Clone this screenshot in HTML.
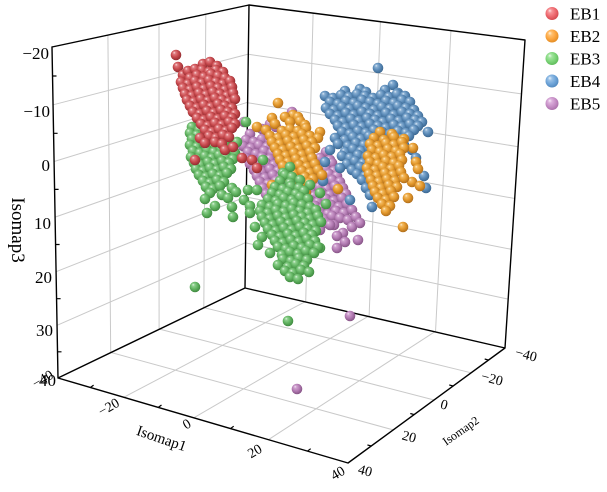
<!DOCTYPE html>
<html><head><meta charset="utf-8">
<style>
html,body{margin:0;padding:0;background:#fff;}
svg{display:block;}
text{font-family:"Liberation Serif","Times New Roman",serif;fill:#000;}
</style></head>
<body>
<svg width="607" height="492" viewBox="0 0 607 492" xmlns="http://www.w3.org/2000/svg">
<defs>
<radialGradient id="gR" cx="0.45" cy="0.42" r="0.62" fx="0.32" fy="0.27"><stop offset="0" stop-color="#fbe6e6"/><stop offset="0.2" stop-color="#e07c80"/><stop offset="0.55" stop-color="#c84a4e"/><stop offset="1" stop-color="#8a272b"/></radialGradient>
<radialGradient id="gO" cx="0.45" cy="0.42" r="0.62" fx="0.32" fy="0.27"><stop offset="0" stop-color="#fff0d8"/><stop offset="0.2" stop-color="#f3bb62"/><stop offset="0.55" stop-color="#e3982c"/><stop offset="1" stop-color="#a8681a"/></radialGradient>
<radialGradient id="gG" cx="0.45" cy="0.42" r="0.62" fx="0.32" fy="0.27"><stop offset="0" stop-color="#e8f8e8"/><stop offset="0.2" stop-color="#8fd08f"/><stop offset="0.55" stop-color="#62b462"/><stop offset="1" stop-color="#3a833a"/></radialGradient>
<radialGradient id="gB" cx="0.45" cy="0.42" r="0.62" fx="0.32" fy="0.27"><stop offset="0" stop-color="#e6eff8"/><stop offset="0.2" stop-color="#8ab0d4"/><stop offset="0.55" stop-color="#5b8bb8"/><stop offset="1" stop-color="#36628c"/></radialGradient>
<radialGradient id="gP" cx="0.45" cy="0.42" r="0.62" fx="0.32" fy="0.27"><stop offset="0" stop-color="#f6e8f6"/><stop offset="0.2" stop-color="#cfa2cf"/><stop offset="0.55" stop-color="#b47cb4"/><stop offset="1" stop-color="#7f4e7f"/></radialGradient>
<radialGradient id="lR" cx="0.45" cy="0.42" r="0.62" fx="0.32" fy="0.27"><stop offset="0" stop-color="#ffe8e8"/><stop offset="0.25" stop-color="#f79296"/><stop offset="0.6" stop-color="#ee6a70"/><stop offset="1" stop-color="#d0454b"/></radialGradient>
<radialGradient id="lO" cx="0.45" cy="0.42" r="0.62" fx="0.32" fy="0.27"><stop offset="0" stop-color="#fff2dc"/><stop offset="0.25" stop-color="#ffc070"/><stop offset="0.6" stop-color="#fca640"/><stop offset="1" stop-color="#e08a22"/></radialGradient>
<radialGradient id="lG" cx="0.45" cy="0.42" r="0.62" fx="0.32" fy="0.27"><stop offset="0" stop-color="#eefcee"/><stop offset="0.25" stop-color="#a2e49e"/><stop offset="0.6" stop-color="#7ed67a"/><stop offset="1" stop-color="#5cb858"/></radialGradient>
<radialGradient id="lB" cx="0.45" cy="0.42" r="0.62" fx="0.32" fy="0.27"><stop offset="0" stop-color="#eaf3fc"/><stop offset="0.25" stop-color="#98c0e6"/><stop offset="0.6" stop-color="#70a6da"/><stop offset="1" stop-color="#4f86bc"/></radialGradient>
<radialGradient id="lP" cx="0.45" cy="0.42" r="0.62" fx="0.32" fy="0.27"><stop offset="0" stop-color="#faeefa"/><stop offset="0.25" stop-color="#dcb0dc"/><stop offset="0.6" stop-color="#c790c7"/><stop offset="1" stop-color="#a86ea8"/></radialGradient>
</defs>

<!-- grid -->
<path fill="none" stroke="#c9c9c9" stroke-width="1" d="M107.9 35.1L110.7 352.6M159 24.2L159.1 329.3M205.8 14.2L203.8 307.8M53.1 104.8L248.3 54.1M54.1 161.5L247.6 102.3M55.1 217.1L247 149.8M56.1 271.7L246.3 196.6M57.1 325.3L245.7 242.6M313.1 13.1L305.7 302M380.4 21.7L369.1 316.6M450.9 30.6L435.5 332M248.3 54.3L521.5 93.9M247.6 102.7L518.1 146.7M247 150.3L514.7 198.5M246.3 197L511.4 249.3M245.6 242.9L508.2 299.1M305 301.8L123.8 397.3M368.1 316.4L193.8 417.8M434.7 331.8L268.4 439.7M204 307.7L471.2 372.8M159.5 329.1L434.1 400M111 352.5L393.2 429.9"/>
<!-- box edges -->
<path fill="none" stroke="#000" stroke-width="1.4" stroke-linejoin="round" stroke-linecap="round" d="M52 47L58 378M52 47L249 5M249 5L245 288M58 378L245 288M249 5L525 40M525 40L505 348M245 288L505 348M58 378L348 463L505 348"/>
<!-- minor ticks -->
<path fill="none" stroke="#000" stroke-width="1.2" d="M52.5 76h4M53.6 133.3h4M54.6 189.4h4M55.6 244.5h4M56.6 298.7h4M57.5 351.8h4M90.4 387.5l3.2 -2.4M158.3 407.4l3.2 -2.4M230.5 428.6l3.2 -2.4M307.5 451.1l3.2 -2.4M488.5 360.1l-3.8 -1.1M453 386l-3.8 -1.1M414.1 414.6l-3.8 -1.1M371.2 446l-3.8 -1.1"/>

<!-- EB5 purple -->
<g fill="url(#gP)">
<circle cx="244" cy="122" r="5.3"/><circle cx="270" cy="124" r="5.3"/><circle cx="292" cy="112" r="5.3"/>
<circle cx="262" cy="129" r="5.3"/><circle cx="276" cy="127" r="5.3"/>
<circle cx="250" cy="134" r="5.3"/><circle cx="268" cy="136" r="5.3"/><circle cx="282" cy="133" r="5.3"/>
<circle cx="246" cy="140" r="5.3"/><circle cx="254" cy="142" r="5.3"/><circle cx="262" cy="139" r="5.3"/><circle cx="270" cy="141" r="5.3"/>
<circle cx="243" cy="146" r="5.3"/><circle cx="251" cy="148" r="5.3"/><circle cx="259" cy="145" r="5.3"/><circle cx="267" cy="147" r="5.3"/><circle cx="275" cy="144" r="5.3"/>
<circle cx="248" cy="152" r="5.3"/><circle cx="256" cy="154" r="5.3"/><circle cx="264" cy="151" r="5.3"/><circle cx="272" cy="153" r="5.3"/><circle cx="326" cy="152" r="5.3"/>
<circle cx="246" cy="158" r="5.3"/><circle cx="254" cy="160" r="5.3"/><circle cx="262" cy="157" r="5.3"/><circle cx="270" cy="159" r="5.3"/><circle cx="278" cy="156" r="5.3"/><circle cx="320" cy="158" r="5.3"/><circle cx="330" cy="160" r="5.3"/>
<circle cx="250" cy="164" r="5.3"/><circle cx="258" cy="166" r="5.3"/><circle cx="266" cy="163" r="5.3"/><circle cx="274" cy="165" r="5.3"/><circle cx="282" cy="162" r="5.3"/><circle cx="316" cy="164" r="5.3"/><circle cx="324" cy="166" r="5.3"/><circle cx="332" cy="163" r="5.3"/>
<circle cx="254" cy="170" r="5.3"/><circle cx="262" cy="172" r="5.3"/><circle cx="270" cy="169" r="5.3"/><circle cx="278" cy="171" r="5.3"/><circle cx="286" cy="168" r="5.3"/><circle cx="310" cy="170" r="5.3"/><circle cx="318" cy="172" r="5.3"/><circle cx="326" cy="169" r="5.3"/><circle cx="334" cy="171" r="5.3"/>
<circle cx="257" cy="176" r="5.3"/><circle cx="265" cy="178" r="5.3"/><circle cx="273" cy="175" r="5.3"/><circle cx="281" cy="177" r="5.3"/><circle cx="289" cy="174" r="5.3"/><circle cx="297" cy="176" r="5.3"/><circle cx="305" cy="178" r="5.3"/><circle cx="313" cy="175" r="5.3"/><circle cx="321" cy="177" r="5.3"/><circle cx="329" cy="174" r="5.3"/><circle cx="337" cy="176" r="5.3"/>
<circle cx="260" cy="182" r="5.3"/><circle cx="268" cy="184" r="5.3"/><circle cx="276" cy="181" r="5.3"/><circle cx="284" cy="183" r="5.3"/><circle cx="292" cy="180" r="5.3"/><circle cx="300" cy="182" r="5.3"/><circle cx="308" cy="184" r="5.3"/><circle cx="316" cy="181" r="5.3"/><circle cx="324" cy="183" r="5.3"/><circle cx="332" cy="180" r="5.3"/><circle cx="340" cy="182" r="5.3"/>
<circle cx="263" cy="188" r="5.3"/><circle cx="271" cy="190" r="5.3"/><circle cx="279" cy="187" r="5.3"/><circle cx="287" cy="189" r="5.3"/><circle cx="295" cy="186" r="5.3"/><circle cx="303" cy="188" r="5.3"/><circle cx="311" cy="190" r="5.3"/><circle cx="319" cy="187" r="5.3"/><circle cx="327" cy="189" r="5.3"/><circle cx="335" cy="186" r="5.3"/><circle cx="343" cy="188" r="5.3"/>
<circle cx="266" cy="194" r="5.3"/><circle cx="274" cy="196" r="5.3"/><circle cx="282" cy="193" r="5.3"/><circle cx="290" cy="195" r="5.3"/><circle cx="298" cy="192" r="5.3"/><circle cx="306" cy="194" r="5.3"/><circle cx="314" cy="196" r="5.3"/><circle cx="322" cy="193" r="5.3"/><circle cx="330" cy="195" r="5.3"/><circle cx="338" cy="192" r="5.3"/><circle cx="346" cy="194" r="5.3"/>
<circle cx="270" cy="200" r="5.3"/><circle cx="278" cy="202" r="5.3"/><circle cx="286" cy="199" r="5.3"/><circle cx="294" cy="201" r="5.3"/><circle cx="302" cy="198" r="5.3"/><circle cx="310" cy="200" r="5.3"/><circle cx="318" cy="202" r="5.3"/><circle cx="326" cy="199" r="5.3"/><circle cx="334" cy="201" r="5.3"/><circle cx="342" cy="198" r="5.3"/>
<circle cx="275" cy="206" r="5.3"/><circle cx="283" cy="208" r="5.3"/><circle cx="291" cy="205" r="5.3"/><circle cx="299" cy="207" r="5.3"/><circle cx="307" cy="204" r="5.3"/><circle cx="315" cy="206" r="5.3"/><circle cx="323" cy="208" r="5.3"/><circle cx="331" cy="205" r="5.3"/><circle cx="339" cy="207" r="5.3"/><circle cx="347" cy="204" r="5.3"/>
<circle cx="280" cy="212" r="5.3"/><circle cx="288" cy="214" r="5.3"/><circle cx="296" cy="211" r="5.3"/><circle cx="304" cy="213" r="5.3"/><circle cx="312" cy="210" r="5.3"/><circle cx="320" cy="212" r="5.3"/><circle cx="328" cy="214" r="5.3"/><circle cx="336" cy="211" r="5.3"/><circle cx="344" cy="213" r="5.3"/><circle cx="352" cy="210" r="5.3"/>
<circle cx="300" cy="218" r="5.3"/><circle cx="308" cy="220" r="5.3"/><circle cx="316" cy="217" r="5.3"/><circle cx="324" cy="219" r="5.3"/><circle cx="332" cy="216" r="5.3"/><circle cx="340" cy="218" r="5.3"/><circle cx="348" cy="220" r="5.3"/><circle cx="356" cy="217" r="5.3"/>
<circle cx="310" cy="224" r="5.3"/><circle cx="318" cy="226" r="5.3"/><circle cx="326" cy="223" r="5.3"/><circle cx="334" cy="225" r="5.3"/><circle cx="343" cy="233" r="5.3"/><circle cx="352" cy="227" r="5.3"/><circle cx="360" cy="223" r="5.3"/>
<circle cx="320" cy="230" r="5.3"/><circle cx="330" cy="225" r="5.3"/><circle cx="337" cy="236" r="5.3"/><circle cx="358" cy="240" r="5.3"/>
<circle cx="337" cy="248" r="5.3"/><circle cx="345" cy="242" r="5.3"/>
<circle cx="350" cy="316" r="5.3"/><circle cx="297" cy="389" r="5.3"/>
</g>

<!-- EB4 blue -->
<g fill="url(#gB)">
<circle cx="378" cy="68" r="5.3"/><circle cx="393" cy="85" r="5.3"/>
<circle cx="345" cy="91" r="5.3"/><circle cx="360" cy="89" r="5.3"/><circle cx="366" cy="92" r="5.3"/><circle cx="385" cy="90" r="5.3"/><circle cx="398" cy="93" r="5.3"/>
<circle cx="325" cy="96" r="5.3"/><circle cx="333" cy="98" r="5.3"/><circle cx="341" cy="95" r="5.3"/><circle cx="349" cy="97" r="5.3"/><circle cx="357" cy="94" r="5.3"/><circle cx="365" cy="96" r="5.3"/><circle cx="373" cy="98" r="5.3"/><circle cx="381" cy="95" r="5.3"/><circle cx="389" cy="97" r="5.3"/><circle cx="397" cy="94" r="5.3"/><circle cx="405" cy="96" r="5.3"/>
<circle cx="330" cy="102" r="5.3"/><circle cx="338" cy="104" r="5.3"/><circle cx="346" cy="101" r="5.3"/><circle cx="354" cy="103" r="5.3"/><circle cx="362" cy="100" r="5.3"/><circle cx="370" cy="102" r="5.3"/><circle cx="378" cy="104" r="5.3"/><circle cx="386" cy="101" r="5.3"/><circle cx="394" cy="103" r="5.3"/><circle cx="402" cy="100" r="5.3"/><circle cx="410" cy="102" r="5.3"/>
<circle cx="326" cy="108" r="5.3"/><circle cx="334" cy="110" r="5.3"/><circle cx="342" cy="107" r="5.3"/><circle cx="350" cy="109" r="5.3"/><circle cx="358" cy="106" r="5.3"/><circle cx="366" cy="108" r="5.3"/><circle cx="374" cy="110" r="5.3"/><circle cx="382" cy="107" r="5.3"/><circle cx="390" cy="109" r="5.3"/><circle cx="398" cy="106" r="5.3"/><circle cx="406" cy="108" r="5.3"/><circle cx="414" cy="110" r="5.3"/>
<circle cx="330" cy="114" r="5.3"/><circle cx="338" cy="116" r="5.3"/><circle cx="346" cy="113" r="5.3"/><circle cx="354" cy="115" r="5.3"/><circle cx="362" cy="112" r="5.3"/><circle cx="370" cy="114" r="5.3"/><circle cx="378" cy="116" r="5.3"/><circle cx="386" cy="113" r="5.3"/><circle cx="394" cy="115" r="5.3"/><circle cx="402" cy="112" r="5.3"/><circle cx="410" cy="114" r="5.3"/><circle cx="418" cy="116" r="5.3"/>
<circle cx="335" cy="120" r="5.3"/><circle cx="343" cy="122" r="5.3"/><circle cx="351" cy="119" r="5.3"/><circle cx="359" cy="121" r="5.3"/><circle cx="367" cy="118" r="5.3"/><circle cx="375" cy="120" r="5.3"/><circle cx="383" cy="122" r="5.3"/><circle cx="391" cy="119" r="5.3"/><circle cx="399" cy="121" r="5.3"/><circle cx="407" cy="118" r="5.3"/><circle cx="415" cy="120" r="5.3"/><circle cx="422" cy="122" r="5.3"/>
<circle cx="338" cy="126" r="5.3"/><circle cx="346" cy="128" r="5.3"/><circle cx="354" cy="125" r="5.3"/><circle cx="362" cy="127" r="5.3"/><circle cx="370" cy="124" r="5.3"/><circle cx="378" cy="126" r="5.3"/><circle cx="386" cy="128" r="5.3"/><circle cx="394" cy="125" r="5.3"/><circle cx="402" cy="127" r="5.3"/><circle cx="410" cy="124" r="5.3"/><circle cx="418" cy="126" r="5.3"/>
<circle cx="342" cy="132" r="5.3"/><circle cx="350" cy="134" r="5.3"/><circle cx="358" cy="131" r="5.3"/><circle cx="366" cy="133" r="5.3"/><circle cx="374" cy="130" r="5.3"/><circle cx="382" cy="132" r="5.3"/><circle cx="390" cy="134" r="5.3"/><circle cx="398" cy="131" r="5.3"/><circle cx="406" cy="133" r="5.3"/><circle cx="414" cy="130" r="5.3"/><circle cx="428" cy="132" r="5.3"/>
<circle cx="335" cy="138" r="5.3"/><circle cx="345" cy="140" r="5.3"/><circle cx="353" cy="137" r="5.3"/><circle cx="361" cy="139" r="5.3"/><circle cx="369" cy="136" r="5.3"/><circle cx="377" cy="138" r="5.3"/><circle cx="385" cy="140" r="5.3"/><circle cx="393" cy="137" r="5.3"/><circle cx="401" cy="139" r="5.3"/><circle cx="409" cy="136" r="5.3"/>
<circle cx="338" cy="144" r="5.3"/><circle cx="348" cy="146" r="5.3"/><circle cx="356" cy="143" r="5.3"/><circle cx="364" cy="145" r="5.3"/><circle cx="372" cy="142" r="5.3"/><circle cx="380" cy="144" r="5.3"/><circle cx="388" cy="146" r="5.3"/><circle cx="396" cy="143" r="5.3"/><circle cx="404" cy="145" r="5.3"/>
<circle cx="330" cy="150" r="5.3"/><circle cx="345" cy="152" r="5.3"/><circle cx="353" cy="149" r="5.3"/><circle cx="361" cy="151" r="5.3"/><circle cx="369" cy="148" r="5.3"/><circle cx="377" cy="150" r="5.3"/><circle cx="385" cy="152" r="5.3"/><circle cx="412" cy="150" r="5.3"/>
<circle cx="342" cy="156" r="5.3"/><circle cx="350" cy="158" r="5.3"/><circle cx="358" cy="155" r="5.3"/><circle cx="366" cy="157" r="5.3"/><circle cx="374" cy="154" r="5.3"/><circle cx="382" cy="156" r="5.3"/><circle cx="416" cy="158" r="5.3"/>
<circle cx="325" cy="162" r="5.3"/><circle cx="347" cy="164" r="5.3"/><circle cx="355" cy="161" r="5.3"/><circle cx="363" cy="163" r="5.3"/><circle cx="371" cy="160" r="5.3"/><circle cx="379" cy="162" r="5.3"/>
<circle cx="340" cy="168" r="5.3"/><circle cx="352" cy="170" r="5.3"/><circle cx="360" cy="167" r="5.3"/><circle cx="368" cy="169" r="5.3"/><circle cx="376" cy="166" r="5.3"/>
<circle cx="357" cy="174" r="5.3"/><circle cx="365" cy="176" r="5.3"/><circle cx="373" cy="173" r="5.3"/><circle cx="424" cy="176" r="5.3"/>
<circle cx="323" cy="181" r="5.3"/><circle cx="362" cy="180" r="5.3"/><circle cx="370" cy="182" r="5.3"/>
<circle cx="366" cy="188" r="5.3"/><circle cx="426" cy="188" r="5.3"/>
<circle cx="370" cy="195" r="5.3"/><circle cx="350" cy="200" r="5.3"/><circle cx="372" cy="207" r="5.3"/>
</g>

<!-- EB2 orange -->
<g fill="url(#gO)">
<circle cx="278" cy="103" r="5.3"/><circle cx="293" cy="115" r="5.3"/><circle cx="298" cy="117" r="5.3"/><circle cx="272" cy="118" r="5.3"/><circle cx="257" cy="127" r="5.3"/>
<circle cx="285" cy="117" r="5.3"/><circle cx="300" cy="121" r="5.3"/>
<circle cx="275" cy="124" r="5.3"/><circle cx="290" cy="122" r="5.3"/><circle cx="305" cy="125" r="5.3"/>
<circle cx="266" cy="130" r="5.3"/><circle cx="282" cy="131" r="5.3"/><circle cx="290" cy="129" r="5.3"/><circle cx="298" cy="131" r="5.3"/><circle cx="306" cy="128" r="5.3"/><circle cx="320" cy="132" r="5.3"/>
<circle cx="270" cy="136" r="5.3"/><circle cx="278" cy="138" r="5.3"/><circle cx="286" cy="135" r="5.3"/><circle cx="294" cy="137" r="5.3"/><circle cx="302" cy="134" r="5.3"/><circle cx="310" cy="136" r="5.3"/><circle cx="318" cy="138" r="5.3"/>
<circle cx="272" cy="142" r="5.3"/><circle cx="280" cy="144" r="5.3"/><circle cx="288" cy="141" r="5.3"/><circle cx="296" cy="143" r="5.3"/><circle cx="304" cy="140" r="5.3"/><circle cx="312" cy="142" r="5.3"/>
<circle cx="275" cy="148" r="5.3"/><circle cx="283" cy="150" r="5.3"/><circle cx="291" cy="147" r="5.3"/><circle cx="299" cy="149" r="5.3"/><circle cx="307" cy="146" r="5.3"/><circle cx="315" cy="148" r="5.3"/>
<circle cx="278" cy="154" r="5.3"/><circle cx="286" cy="156" r="5.3"/><circle cx="294" cy="153" r="5.3"/><circle cx="302" cy="155" r="5.3"/><circle cx="310" cy="152" r="5.3"/>
<circle cx="280" cy="160" r="5.3"/><circle cx="288" cy="162" r="5.3"/><circle cx="296" cy="159" r="5.3"/><circle cx="304" cy="161" r="5.3"/><circle cx="312" cy="158" r="5.3"/>
<circle cx="283" cy="166" r="5.3"/><circle cx="291" cy="168" r="5.3"/><circle cx="299" cy="165" r="5.3"/><circle cx="307" cy="167" r="5.3"/><circle cx="315" cy="164" r="5.3"/>
<circle cx="286" cy="172" r="5.3"/><circle cx="294" cy="174" r="5.3"/><circle cx="302" cy="171" r="5.3"/><circle cx="310" cy="173" r="5.3"/><circle cx="318" cy="170" r="5.3"/>
<circle cx="289" cy="178" r="5.3"/><circle cx="297" cy="180" r="5.3"/><circle cx="305" cy="177" r="5.3"/><circle cx="313" cy="179" r="5.3"/>
<circle cx="293" cy="184" r="5.3"/><circle cx="301" cy="186" r="5.3"/><circle cx="309" cy="183" r="5.3"/>
<circle cx="298" cy="190" r="5.3"/><circle cx="306" cy="192" r="5.3"/>
<circle cx="272" cy="185" r="5.3"/><circle cx="338" cy="189" r="5.3"/><circle cx="298" cy="197" r="5.3"/><circle cx="322" cy="175" r="5.3"/><circle cx="314" cy="230" r="5.3"/>
<circle cx="380" cy="132" r="5.3"/><circle cx="392" cy="134" r="5.3"/>
<circle cx="374" cy="138" r="5.3"/><circle cx="384" cy="140" r="5.3"/><circle cx="394" cy="137" r="5.3"/><circle cx="404" cy="139" r="5.3"/>
<circle cx="370" cy="144" r="5.3"/><circle cx="378" cy="146" r="5.3"/><circle cx="386" cy="143" r="5.3"/><circle cx="394" cy="145" r="5.3"/><circle cx="402" cy="142" r="5.3"/><circle cx="413" cy="148" r="5.3"/>
<circle cx="372" cy="150" r="5.3"/><circle cx="380" cy="152" r="5.3"/><circle cx="388" cy="149" r="5.3"/><circle cx="396" cy="151" r="5.3"/><circle cx="404" cy="148" r="5.3"/>
<circle cx="368" cy="156" r="5.3"/><circle cx="376" cy="158" r="5.3"/><circle cx="384" cy="155" r="5.3"/><circle cx="392" cy="157" r="5.3"/><circle cx="400" cy="154" r="5.3"/><circle cx="416" cy="162" r="5.3"/>
<circle cx="370" cy="162" r="5.3"/><circle cx="378" cy="164" r="5.3"/><circle cx="386" cy="161" r="5.3"/><circle cx="394" cy="163" r="5.3"/><circle cx="402" cy="160" r="5.3"/><circle cx="418" cy="169" r="5.3"/>
<circle cx="367" cy="168" r="5.3"/><circle cx="375" cy="170" r="5.3"/><circle cx="383" cy="167" r="5.3"/><circle cx="391" cy="169" r="5.3"/><circle cx="399" cy="166" r="5.3"/>
<circle cx="369" cy="174" r="5.3"/><circle cx="377" cy="176" r="5.3"/><circle cx="385" cy="173" r="5.3"/><circle cx="393" cy="175" r="5.3"/><circle cx="401" cy="172" r="5.3"/><circle cx="412" cy="182" r="5.3"/>
<circle cx="371" cy="180" r="5.3"/><circle cx="379" cy="182" r="5.3"/><circle cx="387" cy="179" r="5.3"/><circle cx="395" cy="181" r="5.3"/><circle cx="404" cy="178" r="5.3"/>
<circle cx="373" cy="186" r="5.3"/><circle cx="381" cy="188" r="5.3"/><circle cx="389" cy="185" r="5.3"/><circle cx="397" cy="187" r="5.3"/><circle cx="420" cy="186" r="5.3"/>
<circle cx="375" cy="192" r="5.3"/><circle cx="383" cy="194" r="5.3"/><circle cx="391" cy="191" r="5.3"/><circle cx="408" cy="198" r="5.3"/>
<circle cx="378" cy="198" r="5.3"/><circle cx="386" cy="200" r="5.3"/><circle cx="394" cy="197" r="5.3"/>
<circle cx="382" cy="204" r="5.3"/><circle cx="390" cy="206" r="5.3"/>
<circle cx="386" cy="211" r="5.3"/><circle cx="403" cy="227" r="5.3"/>
</g>

<!-- EB3 green -->
<g fill="url(#gG)">
<circle cx="192" cy="127" r="5.3"/><circle cx="199" cy="130" r="5.3"/>
<circle cx="190" cy="133" r="5.3"/><circle cx="197" cy="135" r="5.3"/><circle cx="204" cy="132" r="5.3"/><circle cx="246" cy="122" r="5.3"/>
<circle cx="192" cy="139" r="5.3"/><circle cx="199" cy="141" r="5.3"/><circle cx="206" cy="138" r="5.3"/><circle cx="213" cy="140" r="5.3"/><circle cx="227" cy="140" r="5.3"/><circle cx="237" cy="142" r="5.3"/>
<circle cx="190" cy="145" r="5.3"/><circle cx="197" cy="147" r="5.3"/><circle cx="204" cy="144" r="5.3"/><circle cx="211" cy="146" r="5.3"/><circle cx="218" cy="143" r="5.3"/><circle cx="225" cy="145" r="5.3"/>
<circle cx="193" cy="151" r="5.3"/><circle cx="200" cy="153" r="5.3"/><circle cx="207" cy="150" r="5.3"/><circle cx="214" cy="152" r="5.3"/><circle cx="221" cy="149" r="5.3"/><circle cx="228" cy="151" r="5.3"/><circle cx="235" cy="153" r="5.3"/>
<circle cx="191" cy="157" r="5.3"/><circle cx="198" cy="159" r="5.3"/><circle cx="205" cy="156" r="5.3"/><circle cx="212" cy="158" r="5.3"/><circle cx="219" cy="155" r="5.3"/><circle cx="226" cy="157" r="5.3"/><circle cx="233" cy="159" r="5.3"/>
<circle cx="194" cy="163" r="5.3"/><circle cx="201" cy="165" r="5.3"/><circle cx="208" cy="162" r="5.3"/><circle cx="215" cy="164" r="5.3"/><circle cx="222" cy="161" r="5.3"/><circle cx="229" cy="163" r="5.3"/>
<circle cx="196" cy="169" r="5.3"/><circle cx="203" cy="171" r="5.3"/><circle cx="210" cy="168" r="5.3"/><circle cx="217" cy="170" r="5.3"/><circle cx="224" cy="167" r="5.3"/><circle cx="231" cy="169" r="5.3"/>
<circle cx="199" cy="175" r="5.3"/><circle cx="206" cy="177" r="5.3"/><circle cx="213" cy="174" r="5.3"/><circle cx="220" cy="176" r="5.3"/><circle cx="227" cy="173" r="5.3"/>
<circle cx="203" cy="181" r="5.3"/><circle cx="210" cy="183" r="5.3"/><circle cx="217" cy="180" r="5.3"/><circle cx="224" cy="182" r="5.3"/>
<circle cx="206" cy="187" r="5.3"/><circle cx="213" cy="189" r="5.3"/><circle cx="220" cy="186" r="5.3"/><circle cx="232" cy="188" r="5.3"/>
<circle cx="210" cy="193" r="5.3"/><circle cx="222" cy="195" r="5.3"/><circle cx="236" cy="192" r="5.3"/>
<circle cx="205" cy="199" r="5.3"/><circle cx="228" cy="198" r="5.3"/><circle cx="244" cy="200" r="5.3"/>
<circle cx="215" cy="206" r="5.3"/><circle cx="232" cy="207" r="5.3"/><circle cx="250" cy="206" r="5.3"/>
<circle cx="207" cy="213" r="5.3"/><circle cx="233" cy="217" r="5.3"/><circle cx="250" cy="213" r="5.3"/>
<circle cx="248" cy="190" r="5.3"/><circle cx="257" cy="190" r="5.3"/><circle cx="263" cy="160" r="5.3"/><circle cx="290" cy="167" r="5.3"/><circle cx="283" cy="173" r="5.3"/>
<circle cx="285" cy="175" r="5.3"/><circle cx="292" cy="177" r="5.3"/>
<circle cx="280" cy="181" r="5.3"/><circle cx="290" cy="183" r="5.3"/><circle cx="300" cy="180" r="5.3"/>
<circle cx="275" cy="187" r="5.3"/><circle cx="283" cy="189" r="5.3"/><circle cx="291" cy="186" r="5.3"/><circle cx="299" cy="188" r="5.3"/><circle cx="310" cy="185" r="5.3"/>
<circle cx="272" cy="193" r="5.3"/><circle cx="280" cy="195" r="5.3"/><circle cx="288" cy="192" r="5.3"/><circle cx="296" cy="194" r="5.3"/><circle cx="304" cy="191" r="5.3"/><circle cx="320" cy="193" r="5.3"/>
<circle cx="268" cy="199" r="5.3"/><circle cx="276" cy="201" r="5.3"/><circle cx="284" cy="198" r="5.3"/><circle cx="292" cy="200" r="5.3"/><circle cx="300" cy="197" r="5.3"/><circle cx="308" cy="199" r="5.3"/>
<circle cx="262" cy="205" r="5.3"/><circle cx="270" cy="207" r="5.3"/><circle cx="278" cy="204" r="5.3"/><circle cx="286" cy="206" r="5.3"/><circle cx="294" cy="203" r="5.3"/><circle cx="302" cy="205" r="5.3"/><circle cx="310" cy="207" r="5.3"/><circle cx="326" cy="204" r="5.3"/>
<circle cx="260" cy="211" r="5.3"/><circle cx="268" cy="213" r="5.3"/><circle cx="276" cy="210" r="5.3"/><circle cx="284" cy="212" r="5.3"/><circle cx="292" cy="209" r="5.3"/><circle cx="300" cy="211" r="5.3"/><circle cx="308" cy="213" r="5.3"/><circle cx="316" cy="210" r="5.3"/>
<circle cx="262" cy="217" r="5.3"/><circle cx="270" cy="219" r="5.3"/><circle cx="278" cy="216" r="5.3"/><circle cx="286" cy="218" r="5.3"/><circle cx="294" cy="215" r="5.3"/><circle cx="302" cy="217" r="5.3"/><circle cx="310" cy="219" r="5.3"/><circle cx="318" cy="216" r="5.3"/>
<circle cx="255" cy="227" r="5.3"/><circle cx="265" cy="223" r="5.3"/><circle cx="273" cy="225" r="5.3"/><circle cx="281" cy="222" r="5.3"/><circle cx="289" cy="224" r="5.3"/><circle cx="297" cy="221" r="5.3"/><circle cx="305" cy="223" r="5.3"/><circle cx="313" cy="225" r="5.3"/><circle cx="321" cy="222" r="5.3"/>
<circle cx="268" cy="229" r="5.3"/><circle cx="276" cy="231" r="5.3"/><circle cx="284" cy="228" r="5.3"/><circle cx="292" cy="230" r="5.3"/><circle cx="300" cy="227" r="5.3"/><circle cx="308" cy="229" r="5.3"/><circle cx="316" cy="231" r="5.3"/>
<circle cx="262" cy="237" r="5.3"/><circle cx="272" cy="235" r="5.3"/><circle cx="280" cy="237" r="5.3"/><circle cx="288" cy="234" r="5.3"/><circle cx="296" cy="236" r="5.3"/><circle cx="304" cy="233" r="5.3"/><circle cx="312" cy="235" r="5.3"/><circle cx="320" cy="248" r="5.3"/>
<circle cx="258" cy="245" r="5.3"/><circle cx="275" cy="241" r="5.3"/><circle cx="283" cy="243" r="5.3"/><circle cx="291" cy="240" r="5.3"/><circle cx="299" cy="242" r="5.3"/><circle cx="307" cy="239" r="5.3"/><circle cx="315" cy="241" r="5.3"/>
<circle cx="278" cy="247" r="5.3"/><circle cx="286" cy="249" r="5.3"/><circle cx="294" cy="246" r="5.3"/><circle cx="302" cy="248" r="5.3"/><circle cx="310" cy="245" r="5.3"/><circle cx="318" cy="247" r="5.3"/>
<circle cx="270" cy="253" r="5.3"/><circle cx="282" cy="255" r="5.3"/><circle cx="290" cy="252" r="5.3"/><circle cx="298" cy="254" r="5.3"/><circle cx="306" cy="251" r="5.3"/><circle cx="314" cy="253" r="5.3"/>
<circle cx="283" cy="259" r="5.3"/><circle cx="291" cy="261" r="5.3"/><circle cx="299" cy="258" r="5.3"/><circle cx="307" cy="260" r="5.3"/>
<circle cx="278" cy="265" r="5.3"/><circle cx="288" cy="267" r="5.3"/><circle cx="296" cy="264" r="5.3"/><circle cx="304" cy="266" r="5.3"/>
<circle cx="285" cy="271" r="5.3"/><circle cx="293" cy="273" r="5.3"/><circle cx="301" cy="270" r="5.3"/><circle cx="309" cy="272" r="5.3"/>
<circle cx="290" cy="277" r="5.3"/><circle cx="298" cy="279" r="5.3"/>
<circle cx="195" cy="287" r="5.3"/><circle cx="288" cy="321" r="5.3"/>
</g>

<!-- EB1 red -->
<g fill="url(#gR)">
<circle cx="176" cy="55" r="5.3"/><circle cx="178" cy="67" r="5.3"/><circle cx="183" cy="75" r="5.3"/>
<circle cx="203" cy="64" r="5.3"/><circle cx="210" cy="62" r="5.3"/><circle cx="217" cy="66" r="5.3"/>
<circle cx="188" cy="71" r="5.3"/><circle cx="195" cy="69" r="5.3"/><circle cx="202" cy="70" r="5.3"/><circle cx="209" cy="72" r="5.3"/><circle cx="216" cy="70" r="5.3"/><circle cx="223" cy="72" r="5.3"/>
<circle cx="190" cy="78" r="5.3"/><circle cx="197" cy="75" r="5.3"/><circle cx="204" cy="77" r="5.3"/><circle cx="211" cy="74" r="5.3"/><circle cx="218" cy="76" r="5.3"/><circle cx="225" cy="78" r="5.3"/>
<circle cx="181" cy="82" r="5.3"/><circle cx="188" cy="84" r="5.3"/><circle cx="195" cy="81" r="5.3"/><circle cx="202" cy="83" r="5.3"/><circle cx="209" cy="80" r="5.3"/><circle cx="216" cy="82" r="5.3"/><circle cx="223" cy="84" r="5.3"/><circle cx="230" cy="81" r="5.3"/>
<circle cx="183" cy="88" r="5.3"/><circle cx="190" cy="90" r="5.3"/><circle cx="197" cy="87" r="5.3"/><circle cx="204" cy="89" r="5.3"/><circle cx="211" cy="86" r="5.3"/><circle cx="218" cy="88" r="5.3"/><circle cx="225" cy="90" r="5.3"/><circle cx="232" cy="87" r="5.3"/>
<circle cx="185" cy="94" r="5.3"/><circle cx="192" cy="96" r="5.3"/><circle cx="199" cy="93" r="5.3"/><circle cx="206" cy="95" r="5.3"/><circle cx="213" cy="92" r="5.3"/><circle cx="220" cy="94" r="5.3"/><circle cx="227" cy="96" r="5.3"/><circle cx="233" cy="93" r="5.3"/>
<circle cx="187" cy="100" r="5.3"/><circle cx="194" cy="102" r="5.3"/><circle cx="201" cy="99" r="5.3"/><circle cx="208" cy="101" r="5.3"/><circle cx="215" cy="98" r="5.3"/><circle cx="222" cy="100" r="5.3"/><circle cx="229" cy="102" r="5.3"/><circle cx="235" cy="99" r="5.3"/>
<circle cx="190" cy="106" r="5.3"/><circle cx="197" cy="108" r="5.3"/><circle cx="204" cy="105" r="5.3"/><circle cx="211" cy="107" r="5.3"/><circle cx="218" cy="104" r="5.3"/><circle cx="225" cy="106" r="5.3"/><circle cx="232" cy="108" r="5.3"/>
<circle cx="193" cy="112" r="5.3"/><circle cx="200" cy="114" r="5.3"/><circle cx="207" cy="111" r="5.3"/><circle cx="214" cy="113" r="5.3"/><circle cx="221" cy="110" r="5.3"/><circle cx="228" cy="112" r="5.3"/><circle cx="235" cy="114" r="5.3"/>
<circle cx="197" cy="118" r="5.3"/><circle cx="204" cy="120" r="5.3"/><circle cx="211" cy="117" r="5.3"/><circle cx="218" cy="119" r="5.3"/><circle cx="225" cy="116" r="5.3"/><circle cx="232" cy="118" r="5.3"/>
<circle cx="201" cy="124" r="5.3"/><circle cx="208" cy="126" r="5.3"/><circle cx="215" cy="123" r="5.3"/><circle cx="222" cy="125" r="5.3"/><circle cx="229" cy="122" r="5.3"/><circle cx="235" cy="124" r="5.3"/>
<circle cx="205" cy="130" r="5.3"/><circle cx="212" cy="132" r="5.3"/><circle cx="219" cy="129" r="5.3"/><circle cx="226" cy="131" r="5.3"/><circle cx="232" cy="128" r="5.3"/>
<circle cx="209" cy="136" r="5.3"/><circle cx="216" cy="138" r="5.3"/><circle cx="223" cy="135" r="5.3"/><circle cx="229" cy="137" r="5.3"/>
<circle cx="215" cy="142" r="5.3"/><circle cx="222" cy="144" r="5.3"/>
<circle cx="195" cy="160" r="5.3"/><circle cx="200" cy="138" r="5.3"/><circle cx="205" cy="143" r="5.3"/><circle cx="225" cy="150" r="5.3"/><circle cx="233" cy="147" r="5.3"/><circle cx="242" cy="158" r="5.3"/><circle cx="252" cy="160" r="5.3"/><circle cx="257" cy="168" r="5.3"/>
</g>

<!-- Z axis labels -->
<g font-size="17" text-anchor="end">
<text x="49" y="59">−20</text>
<text x="50" y="117">−10</text>
<text x="50" y="171">0</text>
<text x="51" y="229">10</text>
<text x="52" y="283">20</text>
<text x="53" y="336">30</text>
<text x="56" y="386">40</text>
</g>
<text font-size="19" text-anchor="middle" transform="translate(12,230) rotate(90)">Isomap3</text>

<!-- X axis labels -->
<g font-size="14" text-anchor="middle">
<text transform="translate(45,383) rotate(-30)">−40</text>
<text transform="translate(111,411) rotate(-30)">−20</text>
<text transform="translate(189,428) rotate(-30)">0</text>
<text transform="translate(257,455) rotate(-30)">20</text>
<text transform="translate(340,477) rotate(-30)">40</text>
</g>
<text font-size="15" text-anchor="middle" transform="translate(160,443) rotate(19)">Isomap1</text>

<!-- Y axis labels -->
<g font-size="14" text-anchor="middle">
<text transform="translate(364,475) rotate(15)">40</text>
<text transform="translate(408,441) rotate(15)">20</text>
<text transform="translate(443,409) rotate(15)">0</text>
<text transform="translate(491,383) rotate(15)">−20</text>
<text transform="translate(525,359) rotate(15)">−40</text>
</g>
<text font-size="12" text-anchor="middle" transform="translate(463,434) rotate(-35)">Isomap2</text>

<!-- Legend -->
<circle cx="552" cy="13.5" r="6.5" fill="url(#lR)"/>
<circle cx="552" cy="36" r="6.5" fill="url(#lO)"/>
<circle cx="552" cy="58.5" r="6.5" fill="url(#lG)"/>
<circle cx="552" cy="81" r="6.5" fill="url(#lB)"/>
<circle cx="552" cy="103.5" r="6.5" fill="url(#lP)"/>
<g font-size="17">
<text x="570" y="19.5">EB1</text>
<text x="570" y="42">EB2</text>
<text x="570" y="64.5">EB3</text>
<text x="570" y="87">EB4</text>
<text x="570" y="109.5">EB5</text>
</g>
</svg>
</body></html>
